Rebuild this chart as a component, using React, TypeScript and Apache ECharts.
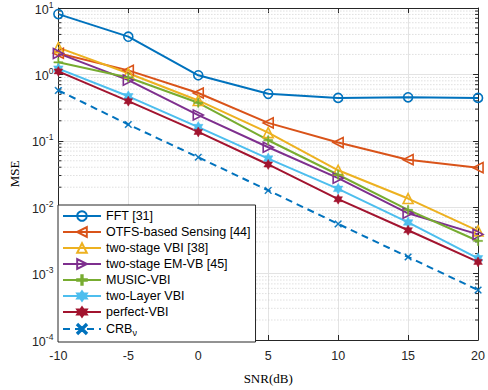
import React, { useEffect, useRef } from "react";
import * as echarts from "echarts";

const snr = [-10, -5, 0, 5, 10, 15, 20];
const fft = [8.1, 3.7, 0.97, 0.51, 0.443, 0.452, 0.443];
const otfs = [2.08, 1.15, 0.525, 0.186, 0.094, 0.052, 0.0394];
const twoStageVBI = [2.53, 1.04, 0.405, 0.133, 0.036, 0.0135, 0.0044];
const twoStageEMVB = [2.07, 0.82, 0.244, 0.08, 0.0274, 0.0081, 0.0039];
const musicVBI = [1.52, 0.9, 0.374, 0.102, 0.0308, 0.0091, 0.0031];
const twoLayerVBI = [1.22, 0.468, 0.161, 0.054, 0.0189, 0.0059, 0.0017];
const perfectVBI = [1.11, 0.395, 0.136, 0.044, 0.0132, 0.0045, 0.0015];
const crb = [0.573, 0.176, 0.0565, 0.0179, 0.0056, 0.00178, 0.000565];

const decades = [-4, -3, -2, -1, 0];
const minorMultipliers = [2, 3, 4, 5, 6, 7, 8, 9];

const HEX =
  "path://M5,0 L6.443,2.5 L9.33,2.5 L7.887,5 L9.33,7.5 L6.443,7.5 L5,10 L3.557,7.5 L0.67,7.5 L2.113,5 L0.67,2.5 L3.557,2.5 Z";
const LEFT_TRI = "path://M0,5 L10,0 L10,10 Z";
const RIGHT_TRI = "path://M10,5 L0,0 L0,10 Z";
const PLUS = "path://M4.3,0 H5.7 V4.3 H10 V5.7 H5.7 V10 H4.3 V5.7 H0 V4.3 H4.3 Z";
const CROSS =
  "path://M1,0 L5,4 L9,0 L10,1 L6,5 L10,9 L9,10 L5,6 L1,10 L0,9 L4,5 L0,1 Z";

export default function App() {
  const ref = useRef<HTMLDivElement>(null);
  useEffect(() => {
    document.body.style.margin = "0";
    const chart = echarts.init(ref.current!, null, { renderer: "svg" });
    const pairs = (arr: number[]) => snr.map((x, i) => [x, arr[i]]);
    const minorVals: number[] = [];
    decades.forEach((d) =>
      minorMultipliers.forEach((m) => minorVals.push(m * Math.pow(10, d)))
    );
    const font = "'Liberation Sans', Arial, Helvetica, sans-serif";
    const serif = "'Liberation Serif', 'Times New Roman', serif";
    const mk = (
      name: string,
      arr: number[],
      color: string,
      symbol: string,
      size: number,
      hollow: boolean,
      dashed = false
    ) => ({
      name,
      type: "line",
      data: pairs(arr),
      symbol,
      symbolSize: size,
      symbolKeepAspect: true,
      showSymbol: true,
      lineStyle: { color, width: 2, type: dashed ? [7, 5] : "solid" },
      itemStyle: hollow
        ? { color: "rgba(255,255,255,0)", borderColor: color, borderWidth: 1.6 }
        : { color, borderColor: color, borderWidth: 0.5 },
      z: 3,
    });
    const logLabel = (v: number) => {
      const e = Math.round(Math.log10(v));
      return `{b|10}{s|${e}}`;
    };
    chart.setOption({
      animation: false,
      backgroundColor: "#fff",
      grid: { left: 48, right: 8, top: 6, bottom: 43 },
      legend: {
        left: 58,
        top: 205,
        orient: "vertical",
        data: [
          "FFT [31]",
          "OTFS-based Sensing [44]",
          "two-stage VBI [38]",
          "two-stage EM-VB [45]",
          "MUSIC-VBI",
          "two-Layer VBI",
          "perfect-VBI",
          "CRB",
        ],
        formatter: (n: string) => (n === "CRB" ? "CRB{sub|ν}" : n),
        itemWidth: 38,
        itemHeight: 12,
        itemGap: 2,
        padding: [4, 5, 5, 4],
        backgroundColor: "#fff",
        borderColor: "#262626",
        borderWidth: 1,
        borderRadius: 0,
        textStyle: {
          fontFamily: font,
          fontSize: 12.5,
          lineHeight: 14,
          color: "#000",
          rich: {
            sub: { fontSize: 9, lineHeight: 14, padding: [7, 0, 0, 0], fontFamily: font },
          },
        },
      },
      xAxis: [
        {
          type: "value",
          min: -10,
          max: 20,
          interval: 5,
          name: "SNR(dB)",
          nameLocation: "middle",
          nameGap: 32,
          nameTextStyle: { fontFamily: serif, fontSize: 13, color: "#000" },
          axisLine: { show: true, onZero: false, lineStyle: { color: "#262626", width: 1 } },
          axisTick: { show: true, inside: true, length: 5, lineStyle: { color: "#262626" } },
          axisLabel: { fontFamily: font, fontSize: 12.5, color: "#262626", margin: 9 },
          splitLine: { show: true, lineStyle: { color: "#e3e3e3", width: 1 } },
        },
        {
          type: "value",
          min: -10,
          max: 20,
          interval: 5,
          position: "top",
          axisLine: { show: true, onZero: false, lineStyle: { color: "#262626", width: 1 } },
          axisTick: { show: true, inside: true, length: 5, lineStyle: { color: "#262626" } },
          axisLabel: { show: false },
          splitLine: { show: false },
        },
      ],
      yAxis: [
        {
          type: "log",
          logBase: 10,
          min: 1e-4,
          max: 10,
          name: "MSE",
          nameLocation: "middle",
          nameGap: 35,
          nameTextStyle: { fontFamily: serif, fontSize: 13, color: "#000" },
          axisLine: { show: true, onZero: false, lineStyle: { color: "#262626", width: 1 } },
          axisTick: { show: true, inside: true, length: 5, lineStyle: { color: "#262626" } },
          axisLabel: {
            formatter: logLabel,
            margin: 5,
            color: "#262626",
            rich: {
              b: { fontFamily: font, fontSize: 12.5, color: "#262626", lineHeight: 16, verticalAlign: "bottom" },
              s: { fontFamily: font, fontSize: 8.5, color: "#262626", lineHeight: 16, verticalAlign: "top", padding: [0, 0, 7, 0] },
            },
          },
          splitLine: { show: true, lineStyle: { color: "#e3e3e3", width: 1 } },
        },
        {
          type: "log",
          logBase: 10,
          min: 1e-4,
          max: 10,
          position: "right",
          axisLine: { show: true, onZero: false, lineStyle: { color: "#262626", width: 1 } },
          axisTick: { show: true, inside: true, length: 5, lineStyle: { color: "#262626" } },
          axisLabel: { show: false },
          splitLine: { show: false },
        },
      ],
      series: [
        {
          type: "custom",
          silent: true,
          clip: false,
          z: 1,
          data: minorVals.map((v) => [-10, v]),
          renderItem: (_p: any, api: any) => {
            const v = api.value(1);
            const a = api.coord([-10, v]);
            const b = api.coord([20, v]);
            return {
              type: "group",
              children: [
                {
                  type: "line",
                  shape: { x1: a[0], y1: a[1], x2: b[0], y2: b[1] },
                  style: { stroke: "#cfcfcf", lineWidth: 1, lineDash: [1, 2] },
                },
                {
                  type: "line",
                  shape: { x1: a[0], y1: a[1], x2: a[0] + 3, y2: a[1] },
                  style: { stroke: "#262626", lineWidth: 1 },
                },
                {
                  type: "line",
                  shape: { x1: b[0] - 3, y1: b[1], x2: b[0], y2: b[1] },
                  style: { stroke: "#262626", lineWidth: 1 },
                },
              ],
            };
          },
        },
        mk("FFT [31]", fft, "#0072BD", "circle", 9, true),
        mk("OTFS-based Sensing [44]", otfs, "#D95319", LEFT_TRI, 10, true),
        mk("two-stage VBI [38]", twoStageVBI, "#EDB120", "triangle", 10, true),
        mk("two-stage EM-VB [45]", twoStageEMVB, "#7E2F8E", RIGHT_TRI, 10, true),
        mk("MUSIC-VBI", musicVBI, "#77AC30", PLUS, 9, false),
        mk("two-Layer VBI", twoLayerVBI, "#4DBEEE", HEX, 11, false),
        mk("perfect-VBI", perfectVBI, "#A2142F", HEX, 10, false),
        mk("CRB", crb, "#0072BD", CROSS, 7, false, true),
      ],
    });
    return () => chart.dispose();
  }, []);
  return <div ref={ref} style={{ width: 488, height: 390 }} />;
}
